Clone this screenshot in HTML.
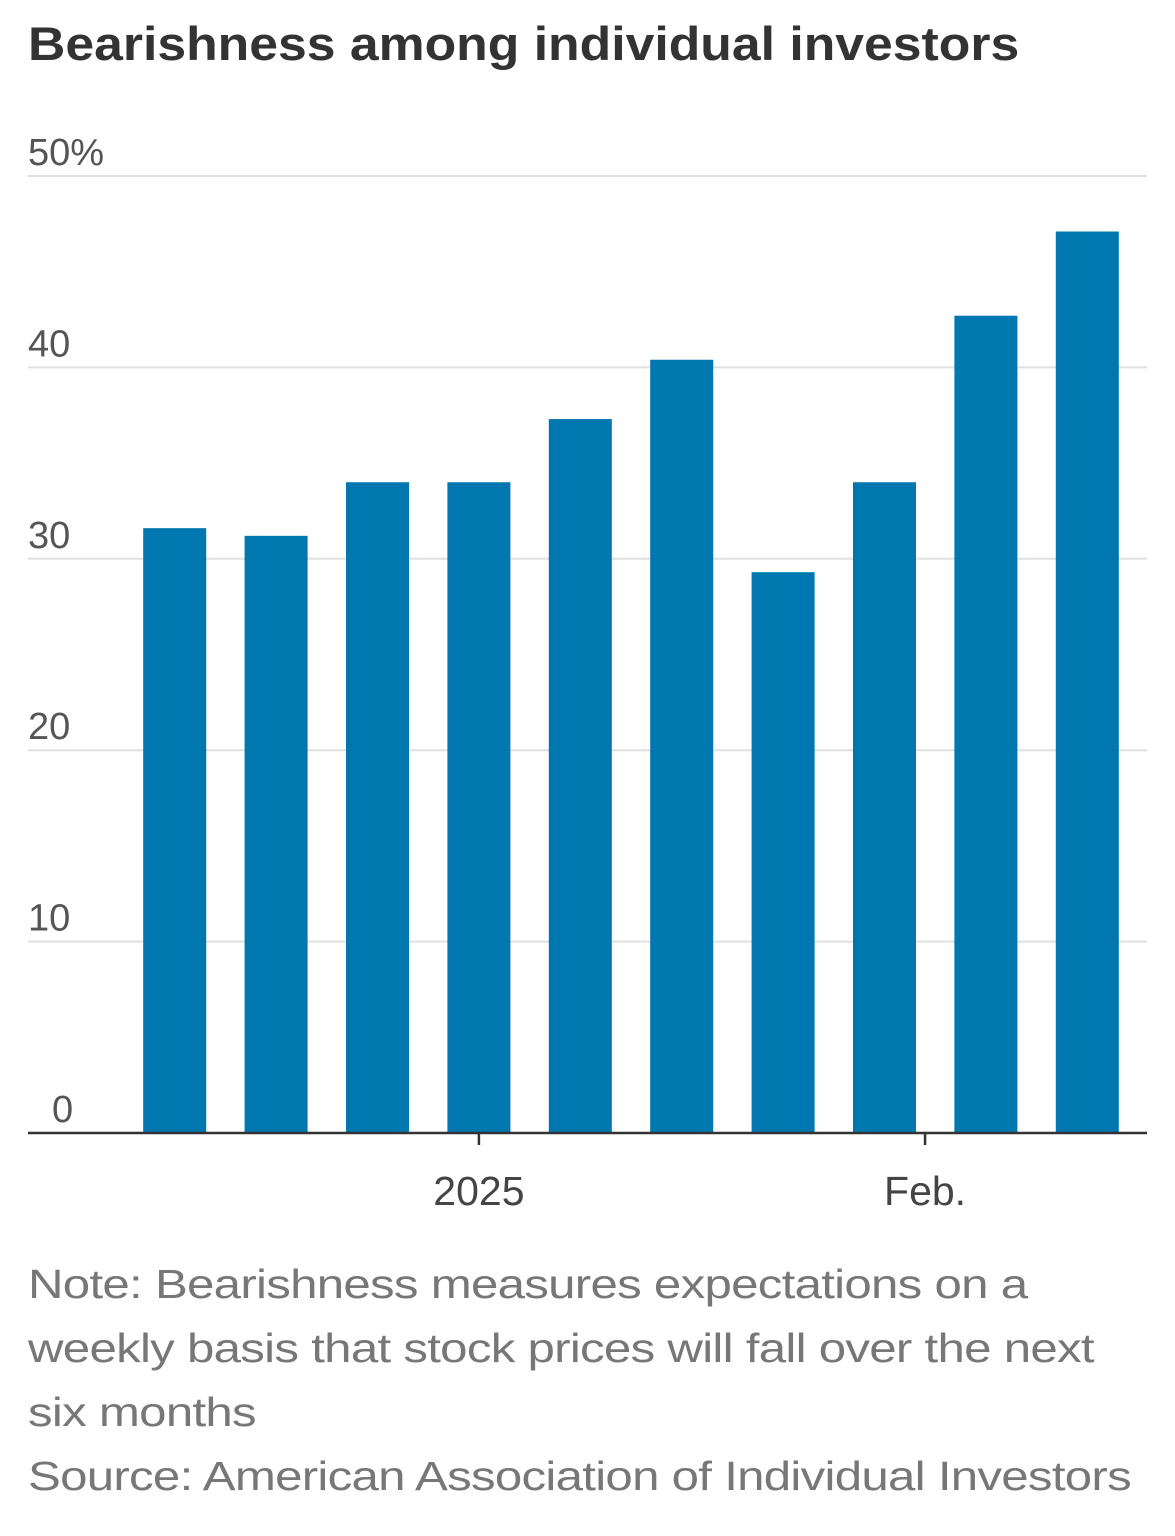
<!DOCTYPE html>
<html><head><meta charset="utf-8"><style>
body{margin:0;background:#fff;width:1175px;height:1536px;overflow:hidden;font-family:"Liberation Sans",sans-serif}
#title{position:absolute;left:28px;top:16px;font-size:47px;font-weight:bold;color:#333;white-space:nowrap;transform:scaleX(1.10);transform-origin:left top}
#notes{position:absolute;left:28px;top:1252px;font-size:41px;color:#777;line-height:64px;letter-spacing:-0.6px;white-space:nowrap;transform:scaleX(1.2);transform-origin:left top}
svg{position:absolute;left:0;top:0}
</style></head><body>
<div id="title">Bearishness among individual investors</div>
<svg id="chart" width="1175" height="1250"></svg>
<div id="notes">
<div>Note: Bearishness measures expectations on a<br>weekly basis that stock prices will fall over the next<br>six months</div>
<div>Source: American Association of Individual Investors</div>
</div>
<script>
const categories=["Dec 18","Dec 25","Jan 1","Jan 8","Jan 15","Jan 22","Jan 29","Feb 5","Feb 12","Feb 19"];
const values=[31.6,31.2,34.0,34.0,37.3,40.4,29.3,34.0,42.7,47.1];
const yTicks=[0,10,20,30,40,50];
const yTickLabels=["0","10","20","30","40","50%"];
const xTickPos=[3.5,7.9];
const xTickLabels=["2025","Feb."];
const svg=document.getElementById('chart');
const NS='http://www.w3.org/2000/svg';
const y0=1133,yTop=176,yMax=50,xL=28,xR=1147,x0=124,step=101.4,bw=63;
const y=v=>y0-(v/yMax)*(y0-yTop);
const xb=i=>x0+i*step;
function mk(t,a){const e=document.createElementNS(NS,t);for(const k in a)e.setAttribute(k,a[k]);svg.appendChild(e);return e;}
yTicks.forEach((v,i)=>{
 if(v>0){const l=mk('line',{x1:xL,x2:xR,y1:y(v),y2:y(v),stroke:'#e0e0e0','stroke-width':2});
 
 }
 const t=mk('text',{x:xL,y:y(v)-11,'font-size':38,fill:'#555','font-family':'Liberation Sans, sans-serif'});
 t.textContent=yTickLabels[i];
 if(v===0)t.setAttribute('x',52);
 
 
});
values.forEach((v,i)=>{
 const r=mk('rect',{x:xb(i)+(step-bw)/2,y:y(v),width:bw,height:y0-y(v),fill:'#0077ae'});
 
 
});
const ax=mk('line',{x1:xL,x2:xR,y1:y0,y2:y0,stroke:'#333','stroke-width':2.5});


xTickPos.forEach((p,i)=>{
 const x=xb(p);
 const tk=mk('line',{x1:x,x2:x,y1:y0,y2:y0+12,stroke:'#333','stroke-width':2.5});
 
 
 const t=mk('text',{x:x,y:y0+72,'font-size':41,fill:'#444','text-anchor':'middle','font-family':'Liberation Sans, sans-serif'});
 t.textContent=xTickLabels[i];
 
 
});
</script>
</body></html>
